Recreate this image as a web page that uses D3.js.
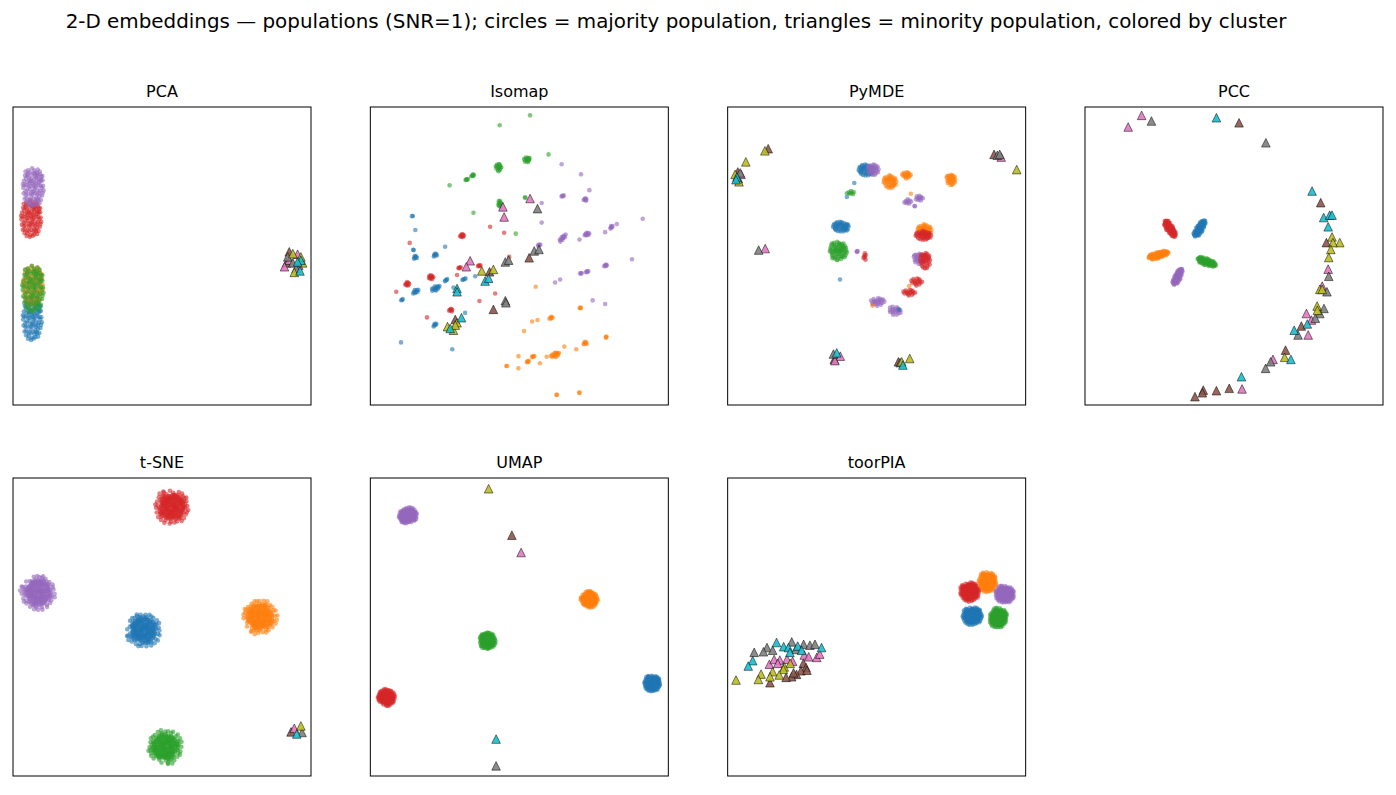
<!DOCTYPE html>
<html>
<head>
<meta charset="utf-8">
<script src="https://cdn.jsdelivr.net/npm/d3@7"></script>
<style>
body { margin:0; background:#fff; }
text { font-family: "DejaVu Sans", sans-serif; }
</style>
</head>
<body>
<svg id="drawing_region"></svg>
<script>
// clusters 0-4 = majority (circles), 5-9 = minority (triangles), tab10 colours
const clusterColors = d3.schemeCategory10;
const figTitle = "2-D embeddings \u2014 populations (SNR=1); circles = majority population, triangles = minority population, colored by cluster";
const panelTitles = ["PCA", "Isomap", "PyMDE", "PCC", "t-SNE", "UMAP", "toorPIA"];

// hand-placed spread pattern inside a unit disc, used to fill each group of circles
const blobOffsets = [
[0.12,-0.05],[-0.34,0.21],[0.55,0.40],[-0.71,-0.22],[0.08,0.83],[0.44,-0.62],[-0.18,-0.47],[0.91,0.05],[-0.52,0.66],[0.27,0.18],
[-0.05,-0.88],[0.63,-0.21],[-0.87,0.31],[0.36,0.71],[-0.29,-0.12],[0.74,0.52],[-0.61,-0.58],[0.02,0.37],[0.19,-0.33],[-0.43,0.02],
[0.82,-0.44],[-0.15,0.62],[0.48,0.08],[-0.77,0.57],[0.31,-0.85],[-0.38,-0.79],[0.67,0.27],[-0.93,-0.05],[0.14,0.54],[-0.24,0.41],
[0.57,-0.48],[-0.58,0.24],[0.05,-0.61],[0.39,-0.15],[-0.11,0.95],[0.86,0.33],[-0.69,-0.40],[0.23,0.02],[-0.47,0.84],[0.71,-0.67],
[-0.22,-0.29],[0.45,0.58],[-0.83,0.08],[0.09,-0.19],[-0.35,-0.63],[0.60,0.78],[-0.06,0.15],[0.96,-0.18],[-0.56,-0.15],[0.28,-0.55],
[-0.13,-0.98],[0.51,0.22],[-0.72,0.78],[0.17,0.72],[-0.41,0.46],[0.78,-0.05],[-0.26,0.04],[0.34,0.37],[-0.64,-0.77],[0.03,0.05],
[0.69,0.06],[-0.49,-0.37],[0.22,-0.72],[-0.89,-0.33],[0.41,0.88],[-0.08,-0.38],[0.58,-0.83],[-0.31,0.74],[0.85,0.55],[-0.67,0.43],
[0.11,0.22],[-0.19,-0.68],[0.53,-0.31],[-0.97,0.14],[0.26,0.47],[-0.44,-0.93],[0.73,0.35],[-0.02,-0.25],[0.37,-0.38],[-0.55,0.59],
[0.15,-0.92],[-0.80,-0.60],[0.64,0.64],[-0.33,0.28],[0.06,0.68],[0.88,-0.30],[-0.16,0.30],[0.47,-0.68],[-0.62,0.08],[0.32,0.60],
[-0.40,-0.20],[0.79,0.15],[-0.09,0.48],[0.20,-0.12],[-0.74,-0.10],[0.50,0.42],[-0.27,-0.51],[0.62,-0.08],[-0.50,0.90],[0.00,-0.45]
];

// circle groups: [cluster, x, y, spreadX, spreadY, angle, count]  (x,y in 0-100 panel units)
const pcaCircles = [
[0,6.5,29.1,3.3,7.4,0,90],[1,6.7,40.2,3.5,6.7,0,90],[2,6.7,39.1,3.7,8.0,0,90],
[3,6.1,62.6,3.5,6.3,0,90],[4,6.8,73.2,3.6,6.6,0,90]
];
const pcaTriangles = [
[5,92.7,51.4],[8,93.9,50.8],[6,95.5,50.6],[7,92.2,49.7],[9,96.6,48.6],[6,92.7,48.6],[7,93.9,47.7],[8,97.2,47.7],
[6,91.1,46.4],[6,95.9,46.9],[7,95.0,45.8],[8,94.4,44.5],[9,96.3,45.0],[5,91.8,47.7],[9,95.5,48.0],[8,96.6,49.7]
];

const isomapCircles = [
[2,53.6,97.2,0,0,0,1],[2,43.4,93.9,0,0,0,1],[2,43.0,79.7,1.0,1.4,0,14],[2,52.5,82.3,1.2,1.0,30,12],[2,59.8,84.1,0,0,0,1],
[2,34.4,76.9,0.7,0.6,0,5],[2,32.4,75.6,0.6,0.5,0,4],[2,26.6,73.7,0,0,0,1],[2,43.4,67.4,0.6,1.4,0,10],[2,52.0,69.6,0.4,0.2,0,2],
[2,34.6,64.5,0,0,0,1],[2,48.8,57.5,0,0,0,1],
[0,14.2,63.4,0.6,0.4,30,2],[0,15.1,58.7,0,0,0,1],[0,14.5,52.0,0.3,0.3,0,2],[0,15.1,49.5,0.8,0.6,30,6],[0,21.8,50.3,0.9,0.6,30,6],
[0,25.1,53.1,0,0,0,1],[0,15.1,38.0,1.3,0.7,30,8],[0,21.8,39.1,1.8,0.8,30,12],[0,25.5,41.9,0.8,0.5,30,4],[0,31.5,42.2,0.9,0.4,15,4],
[0,35.2,43.2,0,0,0,1],[0,10.6,35.2,0.7,0.4,30,3],[0,27.9,39.4,0,0,0,1],[0,21.8,26.8,1.0,0.6,30,5],[0,31.8,30.9,0,0,0,1],
[0,10.3,21.0,0,0,0,1],[0,27.5,18.7,0,0,0,1],
[3,30.7,56.8,0.8,0.7,0,8],[3,13.2,54.4,0,0,0,1],[3,20.3,42.8,0.9,0.9,0,10],[3,12.3,40.6,0.8,0.8,0,8],[3,8.7,38.0,0,0,0,1],
[3,30.0,46.0,0.6,0.5,0,4],[3,36.6,46.7,0.6,0.5,0,4],[3,29.1,43.6,0,0,0,1],[3,40.2,59.8,0,0,0,1],[3,44.9,57.8,0,0,0,1],
[3,41.9,37.4,0,0,0,1],[3,36.6,34.9,0,0,0,1],[3,19.0,29.4,0,0,0,1],[3,27.0,31.8,0.8,0.6,0,6],[3,46.6,49.7,0,0,0,1],
[4,64.2,80.8,0,0,0,1],[4,70.7,77.4,0,0,0,1],[4,73.5,72.1,0,0,0,1],[4,64.6,70.1,0.6,0.6,0,4],[4,72.1,68.9,0.7,0.6,0,6],
[4,57.5,67.8,0,0,0,1],[4,57.5,61.2,0,0,0,1],[4,81.0,59.6,0.8,0.6,30,5],[4,82.7,60.7,0,0,0,1],[4,91.4,62.5,0,0,0,1],
[4,64.5,55.9,1.8,0.6,50,10],[4,72.6,57.3,1.0,0.6,15,8],[4,70.2,55.5,0,0,0,1],[4,78.8,58.0,0,0,0,1],[4,56.7,53.6,0.6,0.6,0,4],
[4,87.8,48.9,0,0,0,1],[4,79.0,46.7,0.7,0.5,0,5],[4,72.8,44.7,0.6,0.6,0,4],[4,70.6,44.1,0.6,0.4,0,3],[4,63.7,42.1,0,0,0,1],
[4,62.0,41.1,0,0,0,1],[4,74.6,35.1,0,0,0,1],[4,78.8,33.9,0,0,0,1],
[1,55.5,39.7,0,0,0,1],[1,70.4,32.5,0.5,0.4,0,3],[1,60.7,29.1,0.8,0.6,0,5],[1,56.1,28.5,0,0,0,1],[1,54.3,28.0,0,0,0,1],
[1,51.6,24.8,0,0,0,1],[1,79.1,22.6,0.3,1.0,0,3],[1,72.1,20.7,0.8,0.6,20,6],[1,69.1,18.7,0,0,0,1],[1,65.1,19.6,0,0,0,1],
[1,62.0,16.8,1.6,0.8,25,14],[1,59.2,16.2,0,0,0,1],[1,54.7,16.2,0.6,0.6,0,4],[1,52.9,14.5,0.5,0.8,0,4],[1,56.9,14.0,0,0,0,1],
[1,49.7,16.4,0,0,0,1],[1,49.7,12.3,0,0,0,1],[1,45.8,13.1,0.5,0.3,20,2],[1,62.6,3.4,0.4,0.3,20,2],[1,70.2,4.1,0.4,0.2,0,2]
];
const isomapTriangles = [
[6,53.6,69.3],[7,56.1,65.9],[6,44.5,66.5],[6,44.9,63.1],[7,55.0,51.7],[7,56.6,52.2],[5,53.3,49.4],[7,45.3,48.0],
[7,46.4,48.6],[6,33.5,48.4],[6,32.2,46.4],[8,37.4,45.0],[8,41.3,45.5],[5,40.0,44.7],[9,38.5,41.6],[9,39.7,42.5],
[9,29.1,39.1],[9,29.1,38.0],[7,45.3,35.0],[7,45.5,34.3],[5,41.3,32.1],[9,30.6,29.3],[8,25.9,26.3],[8,29.1,27.6],
[8,27.9,25.1],[5,28.5,28.7],[9,26.8,25.7],[8,28.5,26.8]
];

const pymdeCircles = [
[0,46.4,78.8,2.6,2.0,0,40],[4,48.8,79.0,2.0,2.0,0,25],[1,54.5,74.9,2.3,2.3,0,35],[1,60.0,77.1,1.6,1.2,0,15],
[1,74.9,75.6,1.6,2.0,0,25],[0,42.5,74.5,0,0,0,1],[2,41.3,71.2,1.8,0.7,0,7],[0,40.0,69.8,0,0,0,1],[1,61.5,70.9,0,0,0,1],
[4,64.2,69.3,1.4,1.1,0,10],[4,60.3,68.2,1.4,1.0,0,8],[4,62.8,66.7,0.3,0.3,0,2],[0,38.0,59.8,2.8,1.8,0,40],
[1,66.1,58.7,2.5,2.0,0,35],[3,65.7,56.9,2.8,1.6,0,35],[2,37.1,51.7,3.0,3.2,0,60],[4,43.4,51.4,0.4,0.6,0,3],
[3,46.0,49.7,0.6,1.5,0,6],[4,64.2,49.1,2.0,2.0,0,25],[3,66.3,48.5,1.8,3.0,0,30],[0,37.7,42.1,0,0,0,1],
[3,63.4,41.3,2.0,1.4,0,15],[1,60.9,39.9,0,0,0,1],[3,60.9,37.7,2.2,1.1,0,15],[4,50.3,34.6,2.5,1.5,0,20],
[1,48.6,33.4,0,0,0,1],[4,56.1,31.6,2.2,1.6,-20,18],[0,57.5,32.0,0,0,0,1]
];
const pymdeTriangles = [
[8,12.5,85.3],[5,13.6,86.0],[8,6.1,81.6],[5,3.4,78.2],[8,2.5,77.4],[7,4.2,77.9],[9,3.1,76.5],[6,4.5,77.4],
[8,3.8,74.9],[5,3.6,75.9],[9,2.8,75.6],[7,10.4,52.0],[6,12.6,52.5],[5,89.4,84.1],[7,90.5,83.8],[7,91.3,84.1],
[6,91.8,83.2],[8,97.0,79.0],[7,35.5,17.1],[9,36.6,17.5],[6,37.8,16.4],[5,35.8,15.3],[6,36.0,14.9],
[5,57.3,14.5],[8,58.4,14.5],[8,61.1,15.6],[9,58.8,13.4],[7,57.9,14.2]
];

const pccCircles = [
[0,38.5,59.2,3.3,1.2,59,60],[1,24.6,50.3,3.6,1.1,16,60],[2,40.8,48.0,3.4,1.2,-19,60],
[3,28.5,59.2,3.3,1.2,-57,60],[4,31.1,43.0,3.1,1.1,65,60]
];
const pccTriangles = [
[6,19.0,97.2],[7,22.3,95.3],[6,14.5,93.3],[9,44.1,96.4],[5,51.7,94.7],[7,60.7,88.0],[9,76.2,71.8],[5,79.1,67.9],
[9,80.1,62.9],[9,82.1,63.7],[9,82.9,63.7],[9,81.6,59.8],[8,82.9,56.4],[8,85.5,54.5],[8,83.2,54.5],[5,81.0,54.5],
[8,82.5,52.2],[8,81.8,49.5],[6,81.6,45.6],[7,81.8,43.2],[6,79.6,39.9],[8,78.8,38.8],[8,79.6,38.8],[7,81.2,38.0],
[8,77.9,33.2],[8,78.0,31.8],[7,80.2,32.4],[7,78.8,30.7],[7,77.3,29.1],[6,74.3,30.7],[6,76.0,28.5],[5,72.6,26.5],
[9,74.6,27.2],[9,70.2,25.1],[7,71.5,23.5],[6,74.9,23.5],[5,67.3,18.4],[8,67.0,16.0],[9,69.1,15.3],[6,63.1,15.3],
[7,62.3,14.5],[7,60.6,12.3],[9,52.5,9.5],[6,52.7,5.4],[5,48.4,5.6],[5,44.1,4.8],[5,39.7,5.0],[5,39.4,4.1],[5,36.9,2.8]
];

const tsneCircles = [
[0,43.8,48.9,5.7,5.7,80,200],[1,82.9,53.4,5.7,5.7,120,200],[2,51.1,9.8,5.7,5.7,160,200],
[3,53.3,90.3,5.7,5.7,0,200],[4,8.4,61.5,5.7,5.7,40,200]
];
const tsneTriangles = [
[5,93.3,14.8],[6,94.4,16.0],[7,97.0,14.6],[8,96.6,16.8],[9,95.2,14.1]
];

const umapCircles = [
[0,94.6,31.1,2.7,2.7,0,150],[1,73.5,59.3,2.7,2.8,50,150],[2,39.3,45.4,2.8,2.7,100,150],
[3,5.4,26.4,2.9,2.7,150,150],[4,12.6,87.4,3.1,2.6,200,150]
];
const umapTriangles = [
[8,39.7,96.4],[5,47.5,80.8],[6,50.6,75.0],[9,42.2,12.4],[7,42.2,3.4]
];

const toorpiaCircles = [
[0,82.1,53.7,3.3,3.0,10,200],[1,87.2,65.1,3.0,3.4,0,200],[2,90.8,53.1,2.9,3.4,-15,200],
[3,81.2,61.8,3.2,3.2,20,200],[4,93.0,61.0,3.2,2.9,-10,200]
];
const toorpiaTriangles = [
[9,16.4,44.8],[7,13.2,43.1],[7,12.0,41.7],[7,8.9,41.5],[7,15.1,42.2],[9,18.8,43.4],[9,20.4,43.1],[7,21.5,45.0],
[9,23.5,43.6],[7,25.5,44.2],[7,27.6,43.9],[7,29.3,44.2],[9,31.5,43.1],[9,24.8,42.2],[7,22.9,42.5],[9,20.9,41.5],
[9,8.4,38.7],[9,6.9,36.9],[6,14.0,37.5],[6,15.6,39.1],[6,17.5,38.9],[6,19.9,39.2],[6,21.8,38.5],[6,25.7,40.6],
[6,27.2,40.0],[6,29.9,39.8],[6,30.9,40.9],[6,16.8,37.8],[8,21.0,37.8],[8,19.0,36.6],[8,18.7,35.8],[8,15.1,35.0],
[8,11.2,34.2],[8,10.3,32.4],[8,14.2,33.3],[8,17.3,33.9],[8,2.8,32.2],[5,25.4,37.8],[5,26.3,36.4],[5,24.6,35.3],
[5,23.1,34.1],[5,21.5,33.3],[5,19.6,33.1],[5,14.2,31.3],[5,26.6,35.5],[5,22.1,34.6]
];

const panelCircles = [pcaCircles, isomapCircles, pymdeCircles, pccCircles, tsneCircles, umapCircles, toorpiaCircles];
const panelTriangles = [pcaTriangles, isomapTriangles, pymdeTriangles, pccTriangles, tsneTriangles, umapTriangles, toorpiaTriangles];

const config = {
  width: 1396, height: 795,
  left: 13, top: 107, size: 298,
  colStep: 357.33, rowStep: 371
};

// spread a group's points over the offset pattern; a second pass reuses it mirrored and pulled inward
function expandGroup(g) {
  const [c, x, y, sx, sy, ang, n] = g;
  const a = ang * Math.PI / 180;
  const pts = [];
  for (let i = 0; i < n; i++) {
    const o = blobOffsets[i % blobOffsets.length];
    const pass = Math.floor(i / blobOffsets.length);
    const k = pass === 0 ? 1 : 0.72;
    const dx = (pass === 0 ? o[0] : -o[1]) * sx * k;
    const dy = (pass === 0 ? o[1] : o[0]) * sy * k;
    pts.push({ c: c,
      x: x + dx * Math.cos(a) - dy * Math.sin(a),
      y: y + dx * Math.sin(a) + dy * Math.cos(a) });
  }
  return pts;
}

const svg = d3.select("#drawing_region")
  .attr("width", config.width)
  .attr("height", config.height);

svg.append("rect").attr("width", config.width).attr("height", config.height).attr("fill", "#fff");

svg.append("text")
  .attr("x", 676).attr("y", 28)
  .attr("text-anchor", "middle")
  .attr("font-size", 19.9)
  .text(figTitle);

const xscale = d3.scaleLinear().domain([0, 100]).range([0, config.size]);
const yscale = d3.scaleLinear().domain([0, 100]).range([config.size, 0]);
const triPath = "M0,-4.3L4.3,4.3L-4.3,4.3Z";

panelTitles.forEach((title, i) => {
  const col = i % 4, row = Math.floor(i / 4);
  const g = svg.append("g")
    .attr("transform", `translate(${config.left + col * config.colStep}, ${config.top + row * config.rowStep})`);

  g.append("text")
    .attr("x", config.size / 2).attr("y", -10)
    .attr("text-anchor", "middle")
    .attr("font-size", 16)
    .text(title);

  const circles = panelCircles[i].flatMap(expandGroup);
  g.selectAll("circle")
    .data(circles)
    .join("circle")
    .attr("cx", d => xscale(d.x))
    .attr("cy", d => yscale(d.y))
    .attr("r", 2.3)
    .attr("fill", d => clusterColors[d.c])
    .attr("fill-opacity", 0.6);

  const tris = panelTriangles[i].map(t => ({ c: t[0], x: t[1], y: t[2] }))
    .sort((a, b) => a.c - b.c);
  g.selectAll("path.tri")
    .data(tris)
    .join("path")
    .attr("class", "tri")
    .attr("d", triPath)
    .attr("transform", d => `translate(${xscale(d.x)}, ${yscale(d.y)})`)
    .attr("fill", d => clusterColors[d.c])
    .attr("fill-opacity", 0.9)
    .attr("stroke", "#000")
    .attr("stroke-opacity", 0.85)
    .attr("stroke-width", 0.6);

  g.append("rect")
    .attr("width", config.size).attr("height", config.size)
    .attr("fill", "none")
    .attr("stroke", "#000")
    .attr("stroke-width", 1);
});
</script>
</body>
</html>
